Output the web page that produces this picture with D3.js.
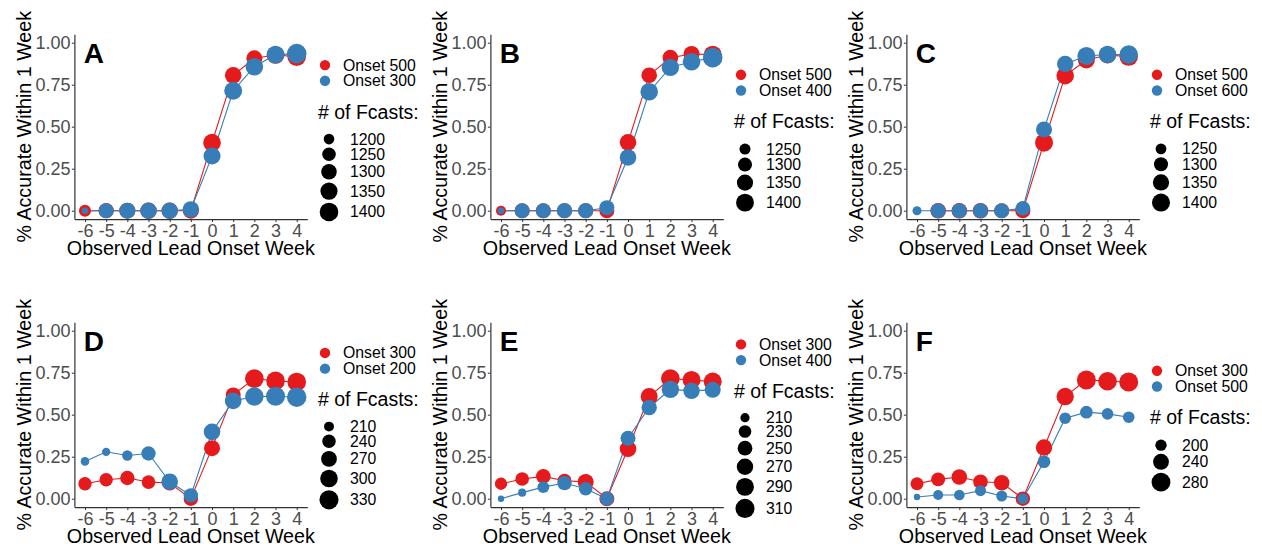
<!DOCTYPE html>
<html>
<head>
<meta charset="utf-8">
<script src="https://cdn.jsdelivr.net/npm/d3@7"></script>
<style>
  body { margin: 0; background: #fff; }
  svg { display: block; font-family: "Liberation Sans", Arial, sans-serif; }
</style>
</head>
<body>
<svg width="1262" height="552"></svg>
<script>
// lead weeks on the x axis
const weeks = [-6, -5, -4, -3, -2, -1, 0, 1, 2, 3, 4];
const yTicks = [0, 0.25, 0.5, 0.75, 1];
const panelLetters = ["A", "B", "C", "D", "E", "F"];
const redLabels = ["Onset 500", "Onset 500", "Onset 500", "Onset 300", "Onset 300", "Onset 300"];
const blueLabels = ["Onset 300", "Onset 400", "Onset 600", "Onset 200", "Onset 400", "Onset 500"];

// % accurate within 1 week, one row per panel (null = no forecast)
const redAcc = [
  [0, 0, 0, 0, 0, 0, 0.405, 0.806, 0.907, 0.927, 0.917],
  [0, 0, 0, 0, 0, 0, 0.407, 0.806, 0.911, 0.933, 0.929],
  [null, 0, 0, 0, 0, 0, 0.405, 0.804, 0.897, 0.927, 0.917],
  [0.089, 0.113, 0.123, 0.099, 0.093, 0, 0.301, 0.618, 0.715, 0.701, 0.695],
  [0.089, 0.117, 0.133, 0.107, 0.1, 0, 0.297, 0.608, 0.715, 0.707, 0.697],
  [0.089, 0.115, 0.129, 0.101, 0.095, 0, 0.305, 0.608, 0.707, 0.699, 0.695]
];
const blueAcc = [
  [0, 0, 0, 0, 0, 0.008, 0.325, 0.714, 0.857, 0.929, 0.935],
  [0, 0, 0, 0, 0, 0.018, 0.317, 0.708, 0.853, 0.887, 0.911],
  [0, 0, 0, 0, 0, 0.014, 0.484, 0.873, 0.921, 0.93, 0.93],
  [0.222, 0.279, 0.257, 0.269, 0.101, 0.02, 0.398, 0.582, 0.608, 0.61, 0.604],
  [0, 0.036, 0.069, 0.093, 0.059, 0, 0.36, 0.543, 0.651, 0.642, 0.648],
  [0.01, 0.022, 0.022, 0.048, 0.016, 0, 0.22, 0.479, 0.515, 0.505, 0.485]
];

// number of forecasts behind each point
const redN = [
  [1221, 1291, 1314, 1326, 1326, 1314, 1365, 1332, 1314, 1365, 1400],
  [1238, 1322, 1322, 1322, 1322, 1322, 1363, 1337, 1337, 1347, 1405],
  [null, 1334, 1334, 1334, 1321, 1325, 1399, 1387, 1370, 1370, 1411],
  [239, 239, 251, 242, 259, 251, 274, 259, 320, 320, 320],
  [228, 239, 249, 242, 265, 253, 272, 278, 302, 292, 292],
  [212, 220, 237, 226, 237, 224, 246, 259, 282, 276, 282]
];
const blueN = [
  [1173, 1286, 1314, 1326, 1326, 1326, 1345, 1378, 1365, 1370, 1438],
  [1220, 1322, 1322, 1327, 1327, 1322, 1363, 1393, 1387, 1393, 1460],
  [1234, 1321, 1321, 1321, 1321, 1312, 1344, 1354, 1399, 1387, 1411],
  [204, 203, 213, 251, 284, 251, 284, 284, 316, 328, 336],
  [205, 207, 225, 246, 239, 242, 253, 258, 283, 270, 265],
  [185, 193, 196, 198, 198, 198, 209, 202, 209, 202, 202]
];
const sizeLimits = [[1173, 1438], [1220, 1460], [1225, 1450], [200, 340], [205, 318], [185, 292]];
const sizeBreaks = [
  [1200, 1250, 1300, 1350, 1400],
  [1250, 1300, 1350, 1400],
  [1250, 1300, 1350, 1400],
  [210, 240, 270, 300, 330],
  [210, 230, 250, 270, 290, 310],
  [200, 240, 280]
];

const RED = "#E41A1C", BLUE = "#377EB8";
const colOff = [0, 416, 832];
const rowOff = [0, 288];

const svg = d3.select("svg");

panelLetters.forEach((letter, p) => {
  const ox = colOff[p % 3], oy = rowOff[Math.floor(p / 3)];
  const left = ox + 74.4, right = ox + 307.3;
  const top = oy + 34.3, bottom = oy + 219.1;

  const x = d3.scaleLinear().domain([-6.5, 4.5]).range([left, right]);
  const y = d3.scaleLinear().domain([-0.05, 1.05]).range([bottom, top]);
  const frac = d3.scaleLinear().domain(sizeLimits[p]).range([0, 1]);
  const rad = d3.scaleLinear().domain([0, 1]).range([3.2, 9.8]);
  const r = n => rad(Math.sqrt(Math.max(0, frac(n))));

  const g = svg.append("g");

  // axes
  const ya = g.append("g")
    .attr("transform", `translate(${left},0)`)
    .call(d3.axisLeft(y).tickValues(yTicks).tickFormat(d3.format(".2f"))
      .tickSize(2.5).tickSizeOuter(0).tickPadding(1.3));
  const xa = g.append("g")
    .attr("transform", `translate(0,${bottom})`)
    .call(d3.axisBottom(x).tickValues(weeks).tickFormat(d3.format("d"))
      .tickSize(3).tickSizeOuter(0).tickPadding(2));
  [ya, xa].forEach(a => {
    a.select(".domain").attr("stroke", "#333").attr("stroke-width", 1.2);
    a.selectAll(".tick line").attr("stroke", "#333");
    a.selectAll(".tick text").attr("fill", "#4D4D4D")
      .style("font-size", "18px").style("font-family", "Liberation Sans, Arial, sans-serif");
  });
  xa.selectAll(".tick text").text(d => d < 0 ? "-" + Math.abs(d) : d);

  g.append("text")
    .attr("x", (left + right) / 2).attr("y", bottom + 36)
    .attr("text-anchor", "middle").style("font-size", "19.7px")
    .text("Observed Lead Onset Week");
  g.append("text")
    .attr("transform", `translate(${ox + 31},${(top + bottom) / 2}) rotate(-90)`)
    .attr("text-anchor", "middle").style("font-size", "19.7px")
    .text("% Accurate Within 1 Week");

  // series
  const series = [
    {acc: redAcc[p], n: redN[p], color: RED},
    {acc: blueAcc[p], n: blueN[p], color: BLUE}
  ].map(s => ({
    color: s.color,
    pts: weeks.map((w, i) => ({w, v: s.acc[i], n: s.n[i]})).filter(d => d.v != null)
  }));

  const line = d3.line().x(d => x(d.w)).y(d => y(d.v));
  series.forEach(s => {
    g.append("path").datum(s.pts)
      .attr("fill", "none").attr("stroke", s.color).attr("stroke-width", 1.1)
      .attr("d", line);
  });
  series.forEach(s => {
    g.append("g").selectAll("circle").data(s.pts).join("circle")
      .attr("cx", d => x(d.w)).attr("cy", d => y(d.v))
      .attr("r", d => r(d.n)).attr("fill", s.color);
  });

  g.append("text")
    .attr("x", left + 9.3).attr("y", top + 28.6)
    .style("font-size", "28px").style("font-weight", "bold")
    .text(letter);

  // legend
  const lx = ox + 325;
  const sizeH = sizeBreaks[p].map(b => 2 * r(b) + 3);
  const total = 15.7 + 7.85 + 31 + 20.5 + d3.sum(sizeH);
  const T = oy + 140 - total / 2;
  const colorY = [T + 7.85, T + 23.55];
  const leg = g.append("g");
  [[RED, redLabels[p]], [BLUE, blueLabels[p]]].forEach(([c, lab], i) => {
    leg.append("circle").attr("cx", lx).attr("cy", colorY[i]).attr("r", 5.2).attr("fill", c);
    leg.append("text").attr("x", lx + 18).attr("y", colorY[i]).attr("dy", "0.35em")
      .style("font-size", "15.8px").text(lab);
  });
  const titleY = colorY[1] + 31;
  leg.append("text").attr("x", lx - 7).attr("y", titleY).attr("dy", "0.35em")
    .style("font-size", "19.5px").text("# of Fcasts:");
  let cy = titleY + 20.5;
  sizeBreaks[p].forEach((b, i) => {
    const c = cy + sizeH[i] / 2;
    leg.append("circle").attr("cx", lx + 4).attr("cy", c).attr("r", r(b)).attr("fill", "#000");
    leg.append("text").attr("x", lx + 25).attr("y", c).attr("dy", "0.35em")
      .style("font-size", "15.8px").text(b);
    cy += sizeH[i];
  });
});
</script>
</body>
</html>
